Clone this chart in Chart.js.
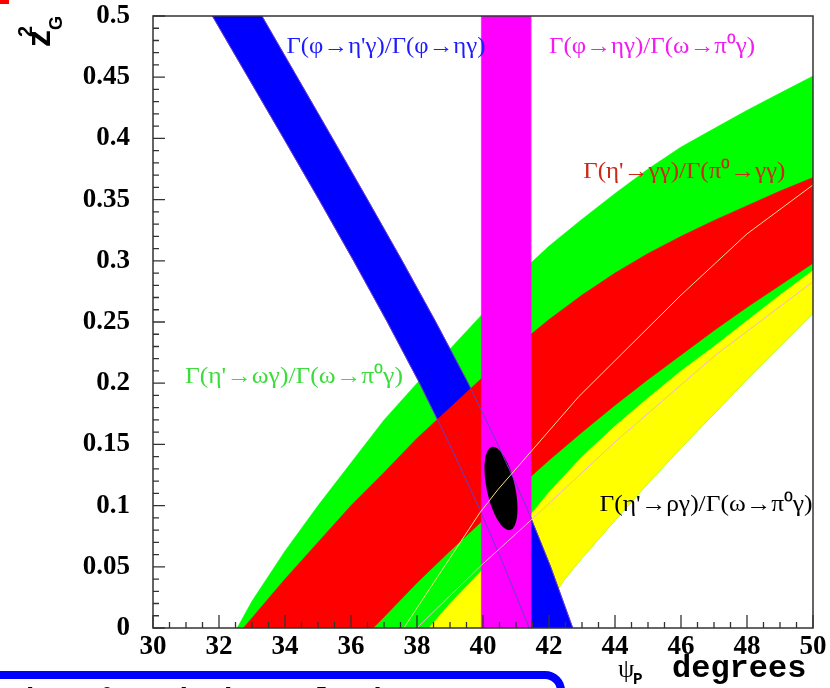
<!DOCTYPE html>
<html>
<head>
<meta charset="utf-8">
<script src="https://cdn.jsdelivr.net/npm/chart.js@4.4.1/dist/chart.umd.min.js"></script>
<style>
  html, body { margin: 0; padding: 0; background: #fff; overflow: hidden; }
  #wrap { position: relative; width: 830px; height: 688px; }
  #tag { position: absolute; left: 0; top: 0; width: 9px; height: 4px; background: #f00; }
  #note {
    position: absolute; left: -30px; top: 671px; width: 595px; height: 70px;
    border: 8px solid #0000ff; border-radius: 20px; box-sizing: border-box;
    font: bold 30px "Liberation Mono", monospace; color: #000;
    padding: 2px 0 0 30px; white-space: nowrap; overflow: hidden;
  }
</style>
</head>
<body>
<div id="wrap">
  <canvas id="chartCanvas" width="830" height="688"></canvas>
  <div id="tag"></div>
  <div id="note">th &nbsp;π⁰ and the relative</div>
</div>
<script>
// Axis ticks
const xTickValues = [30, 32, 34, 36, 38, 40, 42, 44, 46, 48, 50];
const xTickLabels = ['30', '32', '34', '36', '38', '40', '42', '44', '46', '48', '50'];
const yTickValues = [0, 0.05, 0.1, 0.15, 0.2, 0.25, 0.3, 0.35, 0.4, 0.45, 0.5];
const yTickLabels = ['0', '0.05', '0.1', '0.15', '0.2', '0.25', '0.3', '0.35', '0.4', '0.45', '0.5'];

// Band edges, [psi_P, z_G^2]
const greenTop = [[32.55, 0], [33, 0.022], [34, 0.063], [35, 0.1], [36, 0.135], [37, 0.17], [38, 0.2],
  [39, 0.228], [40, 0.257], [41, 0.287], [42, 0.312], [43, 0.334], [44, 0.355], [45, 0.375],
  [46, 0.393], [47, 0.408], [48, 0.423], [49, 0.437], [50, 0.451]];
const redTop = [[32.74, 0], [34, 0.04], [35, 0.07], [36, 0.1], [37, 0.127], [38, 0.155], [39, 0.18],
  [40, 0.205], [41, 0.23], [42, 0.252], [43, 0.272], [44, 0.29], [45, 0.306], [46, 0.32],
  [47, 0.333], [48, 0.345], [49, 0.357], [50, 0.368]];
const redBottom = [[36.67, 0], [37, 0.009], [38, 0.037], [39, 0.063], [40, 0.088], [41, 0.113],
  [42, 0.137], [43, 0.16], [44, 0.182], [45, 0.203], [46, 0.223], [47, 0.243], [48, 0.262],
  [49, 0.28], [50, 0.298]];
const yellowTop = [[38.36, 0], [39, 0.02], [40, 0.048], [41, 0.078], [42, 0.111], [43, 0.14],
  [44, 0.165], [45, 0.188], [46, 0.21], [47, 0.23], [48, 0.251], [49, 0.272], [50, 0.292]];
const yellowBottom = [[41.3, 0], [42, 0.02], [42.45, 0.039], [43, 0.057], [44, 0.088], [45, 0.118],
  [46, 0.147], [47, 0.175], [48, 0.203], [49, 0.23], [50, 0.257]];
const blueLeft = [[31.8, 0.5], [32.88, 0.45], [33.96, 0.4], [35.03, 0.35], [36.08, 0.3], [37.1, 0.25],
  [38.08, 0.2], [38.99, 0.15], [39.85, 0.1], [40.65, 0.05], [41.4, 0]];
const blueRight = [[33.3, 0.5], [34.37, 0.45], [35.44, 0.4], [36.5, 0.35], [37.55, 0.3], [38.57, 0.25],
  [39.55, 0.2], [40.45, 0.15], [41.3, 0.1], [42.05, 0.05], [42.72, 0]];
const magentaRange = [39.95, 41.45];

// Central-value lines
const paleLineA = [[37.6, 0], [39.9, 0.094], [40.45, 0.113], [42.9, 0.189], [46, 0.272], [48, 0.322], [50, 0.362]];
const paleLineB = [[38.0, 0], [39.9, 0.05], [41.45, 0.088], [44, 0.152], [47, 0.222], [50, 0.283]];

// Fit ellipse: major axis end points and half width (degrees)
const ellipseTop = [40.27, 0.148];
const ellipseBottom = [40.82, 0.08];
const ellipseHalfWidth = 0.43;

const bandLabels = [
  { text: "Γ(φ→η'γ)/Γ(φ→ηγ)", x: 37.06, y: 0.475, w: 199, color: '#1c1cff' },
  { text: 'Γ(φ→ηγ)/Γ(ω→π⁰γ)', x: 45.12, y: 0.475, w: 206, color: '#f21cf2' },
  { text: "Γ(η'→γγ)/Γ(π⁰→γγ)", x: 46.1, y: 0.3725, w: 202, color: '#cc2a18' },
  { text: "Γ(η'→ωγ)/Γ(ω→π⁰γ)", x: 34.27, y: 0.205, w: 218, color: '#3ddc3d' },
  { text: "Γ(η'→ργ)/Γ(ω→π⁰γ)", x: 46.76, y: 0.1005, w: 213, color: '#000000' }
];

const pts = arr => arr.map(p => ({ x: p[0], y: p[1] }));
const polygon = (upper, lower) => pts(upper.concat(lower.slice().reverse()));

function band(data, color) {
  return {
    data: data,
    backgroundColor: color,
    borderColor: color,
    borderWidth: 0.5,
    pointRadius: 0,
    fill: 'shape',
    tension: 0
  };
}
function thinLine(data, color) {
  return {
    data: pts(data),
    borderColor: color,
    borderWidth: 1,
    pointRadius: 0,
    fill: false,
    tension: 0
  };
}

// greenTop down to yellowBottom; yellow sits on top of it
const greenPoly = pts(greenTop.concat(yellowBottom.slice().reverse()));
const yellowPoly = polygon(yellowTop, yellowBottom);
const redPoly = polygon(redTop, redBottom);
const bluePoly = pts(blueLeft.concat(blueRight.slice().reverse()));
const magentaPoly = pts([[magentaRange[0], -0.01], [magentaRange[0], 0.51], [magentaRange[1], 0.51], [magentaRange[1], -0.01]]);

// draw the black ellipse right after the magenta band
const ellipsePlugin = {
  id: 'ellipse',
  afterDatasetDraw(chart, args) {
    if (args.index !== 4) return;
    const { ctx, scales: { x, y } } = chart;
    const x1 = x.getPixelForValue(ellipseTop[0]), y1 = y.getPixelForValue(ellipseTop[1]);
    const x2 = x.getPixelForValue(ellipseBottom[0]), y2 = y.getPixelForValue(ellipseBottom[1]);
    const cx = (x1 + x2) / 2, cy = (y1 + y2) / 2;
    const a = Math.hypot(x2 - x1, y2 - y1) / 2;
    const b = x.getPixelForValue(30 + ellipseHalfWidth) - x.getPixelForValue(30);
    ctx.save();
    ctx.fillStyle = '#000';
    ctx.beginPath();
    ctx.ellipse(cx, cy, a, b, Math.atan2(y2 - y1, x2 - x1), 0, Math.PI * 2);
    ctx.fill();
    ctx.restore();
  }
};

const decorPlugin = {
  id: 'decor',
  afterDraw(chart) {
    const { ctx, chartArea: a, scales: { x, y } } = chart;
    ctx.save();
    // band labels, stretched to the width seen in the picture
    ctx.font = '23px "Liberation Serif"';
    ctx.textAlign = 'center';
    ctx.textBaseline = 'middle';
    bandLabels.forEach(l => {
      const sx = l.w / ctx.measureText(l.text).width;
      ctx.save();
      ctx.translate(x.getPixelForValue(l.x), y.getPixelForValue(l.y));
      ctx.scale(sx, 1);
      ctx.fillStyle = l.color;
      ctx.fillText(l.text, 0, 0);
      ctx.restore();
    });
    // frame
    ctx.strokeStyle = '#333';
    ctx.lineWidth = 1.5;
    ctx.strokeRect(a.left, a.top, a.right - a.left, a.bottom - a.top);
    // inward ticks
    ctx.lineWidth = 1.3;
    ctx.beginPath();
    for (let i = 0; i <= 40; i++) {
      const px = x.getPixelForValue(30 + i * 0.5);
      const len = i % 4 === 0 ? 13 : 6;
      ctx.moveTo(px, a.bottom);
      ctx.lineTo(px, a.bottom - len);
    }
    for (let i = 0; i <= 50; i++) {
      const py = y.getPixelForValue(i * 0.01);
      const len = i % 5 === 0 ? 12 : 6;
      ctx.moveTo(a.left, py);
      ctx.lineTo(a.left + len, py);
    }
    ctx.stroke();
    // x title
    ctx.fillStyle = '#000';
    ctx.textAlign = 'left';
    ctx.textBaseline = 'alphabetic';
    ctx.font = '26px "Liberation Serif"';
    ctx.fillText('ψ', 618, 677);
    ctx.font = 'bold 16px "Liberation Mono"';
    ctx.fillText('P', 633, 684);
    ctx.font = 'bold 32px "Liberation Mono"';
    ctx.fillText('degrees', 672, 677);
    // y title, rotated
    ctx.translate(50, 47);
    ctx.rotate(-Math.PI / 2);
    ctx.font = 'bold 34px "Liberation Sans"';
    ctx.fillText('z', 0, 0);
    ctx.font = 'bold 20px "Liberation Sans"';
    ctx.fillText('2', 10, -18);
    ctx.font = 'bold 18px "Liberation Sans"';
    ctx.fillText('G', 17, 12);
    ctx.restore();
  }
};

const tickFont = { family: 'Liberation Serif', size: 27, weight: 'bold' };

const chart = new Chart(document.getElementById('chartCanvas').getContext('2d'), {
  type: 'line',
  data: {
    datasets: [
      thinLine(paleLineA, '#f4e08a'),
      thinLine(paleLineB, '#f0b8c8'),
      thinLine(blueLeft, '#6a3cc8'),
      thinLine(blueRight, '#6a3cc8'),
      band(magentaPoly, '#ff00ff'),
      band(redPoly, '#ff0000'),
      band(bluePoly, '#0000ff'),
      band(yellowPoly, '#ffff00'),
      band(greenPoly, '#00ff00')
    ]
  },
  options: {
    responsive: false,
    animation: false,
    layout: { padding: { top: 16, right: 17, left: 0, bottom: 0 } },
    plugins: { legend: { display: false }, tooltip: { enabled: false } },
    scales: {
      x: {
        type: 'linear', min: 30, max: 50,
        afterBuildTicks: s => { s.ticks = xTickValues.map(v => ({ value: v })); },
        afterFit: s => { s.height = 60; s.paddingLeft = 0; s.paddingRight = 0; },
        grid: { display: false, drawTicks: false },
        border: { display: false },
        ticks: { padding: 3, font: tickFont, color: '#000', maxRotation: 0, autoSkip: false,
          callback: (v, i) => xTickLabels[i] }
      },
      y: {
        type: 'linear', min: 0, max: 0.5,
        afterBuildTicks: s => { s.ticks = yTickValues.map(v => ({ value: v })); },
        afterFit: s => { s.width = 153; s.paddingTop = 0; s.paddingBottom = 0; },
        grid: { display: false, drawTicks: false },
        border: { display: false },
        ticks: { padding: 23, font: tickFont, color: '#000', autoSkip: false,
          callback: (v, i) => yTickLabels[i] }
      }
    }
  },
  plugins: [ellipsePlugin, decorPlugin]
});
</script>
</body>
</html>
